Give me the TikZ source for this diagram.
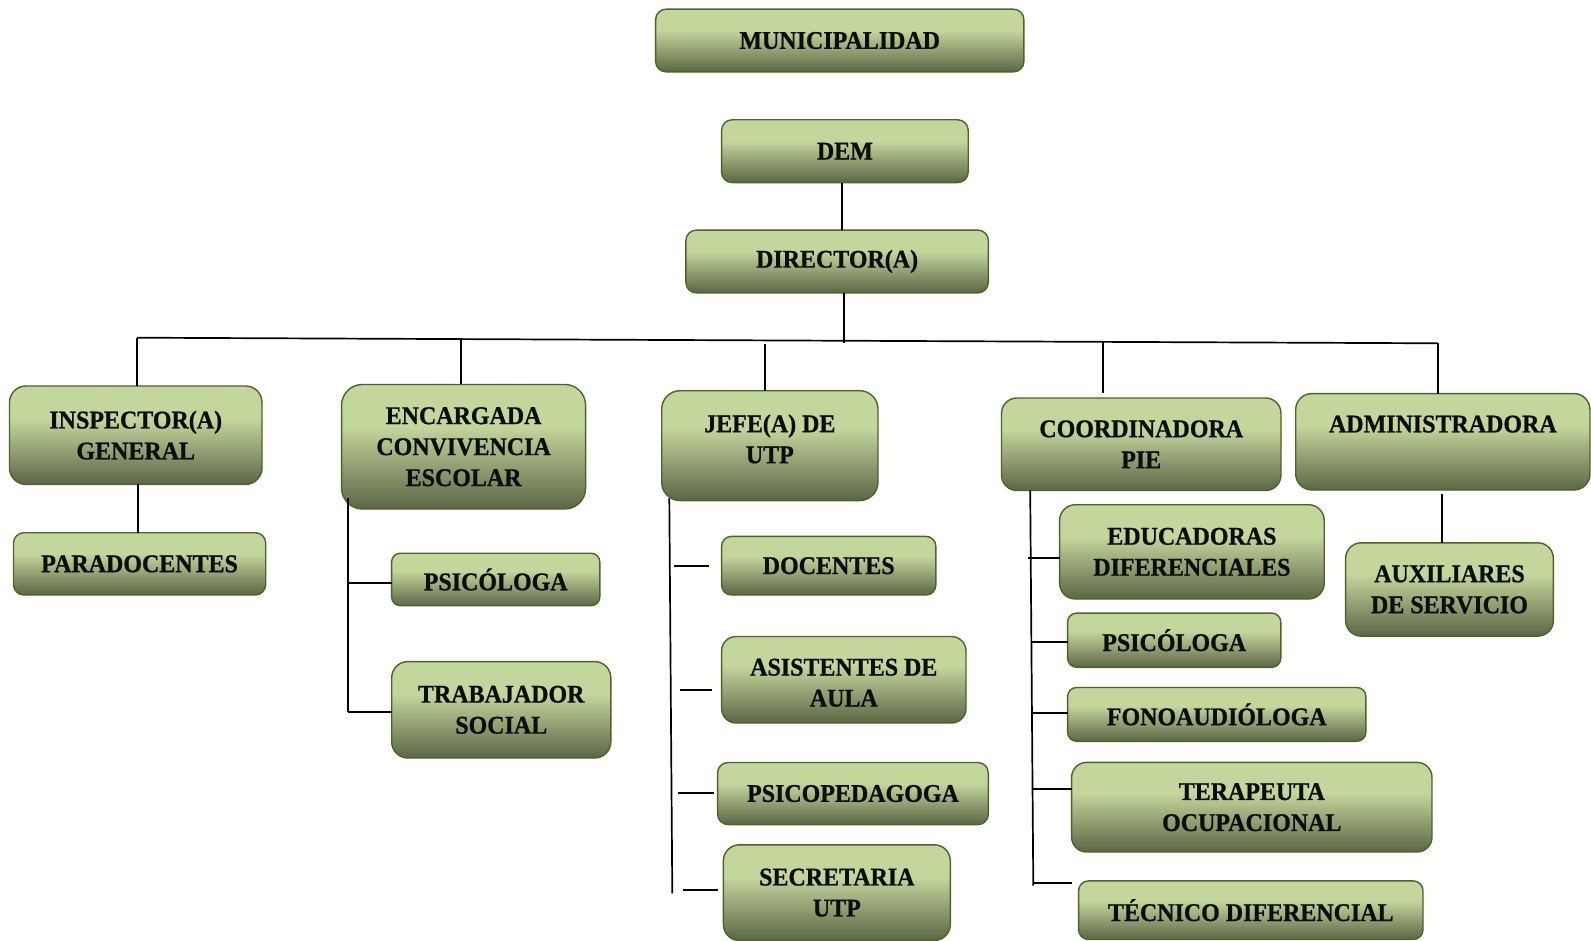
\documentclass[tikz,border=0pt]{standalone}
\usepackage{fontspec}
\setmainfont{Liberation Serif}[FakeStretch=0.94, BoldFeatures={FakeBold=0.8}]
\usetikzlibrary{calc}

\definecolor{boxtop}{HTML}{C3D69B}
\definecolor{boxmid}{HTML}{919F72}
\definecolor{boxbot}{HTML}{5A6746}
\definecolor{boxedge}{HTML}{4F6228}
\definecolor{inktext}{HTML}{0D0D0D}

% light olive at the top, darkening towards the bottom edge
\pgfdeclareverticalshading{olivefade}{100bp}{color(0bp)=(boxbot); color(25bp)=(boxbot); color(42bp)=(boxmid); color(58bp)=(boxtop); color(100bp)=(boxtop)}

\tikzset{
  unitbox/.style={draw=boxedge, line width=1.4pt, shading=olivefade, inner sep=0pt, outer sep=0pt},
  unittext/.style={font=\bfseries\fontsize{25.5}{31}\selectfont, text=inktext, align=center, inner sep=0pt},
  conn/.style={draw=black, line width=1.7pt}
}

% \OrgBox[text shift]{name}{x1}{y1}{x2}{y2}{label}
\newcommand\OrgBox[7][0pt]{%
  \pgfmathsetmacro\obW{#5-#3}%
  \pgfmathsetmacro\obH{#6-#4}%
  \pgfmathsetmacro\obR{0.167*min(\obW,\obH)}%
  \node[unitbox, minimum width=\obW pt, minimum height=\obH pt, rounded corners=\obR pt] (#2) at ({(#3+#5)/2},{(#4+#6)/2}) {};
  \node[unittext, yshift=#1] (#2-t) at (#2.center) {#7};
}

\begin{document}
\begin{tikzpicture}[x=1pt,y=-1pt]
\useasboundingbox (0,0) rectangle (1591,941);

% ---- units ----
\OrgBox{muni}{655.6}{9.2}{1023.9}{71.9}{MUNICIPALIDAD}
\OrgBox{dem}{721.6}{119.8}{968.2}{182.6}{DEM}
\OrgBox{dir}{685.9}{230.1}{988.3}{292.9}{DIRECTOR(A)}

\OrgBox{insp}{9.5}{386}{262}{484.4}{INSPECTOR(A)\\GENERAL}
\OrgBox{para}{13.5}{532.7}{265.7}{595}{PARADOCENTES}

\OrgBox{enc}{341.6}{384.5}{585.6}{509}{ENCARGADA\\CONVIVENCIA\\ESCOLAR}
\OrgBox{psi1}{391.6}{553.2}{599.8}{605.7}{PSICÓLOGA}
\OrgBox{trab}{391.7}{661.6}{610.8}{758}{TRABAJADOR\\SOCIAL}

\OrgBox[6.7pt]{jefe}{661.7}{390.7}{878}{500.6}{JEFE(A) DE\\UTP}
\OrgBox{doc}{721.6}{536.4}{935.8}{595}{DOCENTES}
\OrgBox[-3pt]{asis}{721.6}{636.5}{966}{723}{ASISTENTES DE\\AULA}
\OrgBox{psped}{717.6}{762.5}{988.3}{824.6}{PSICOPEDAGOGA}
\OrgBox{secr}{723.4}{844.8}{950.3}{940.5}{SECRETARIA\\UTP}

\OrgBox{coord}{1001.5}{398}{1281}{490.5}{COORDINADORA\\PIE}
\OrgBox{edu}{1059.6}{504.7}{1324.2}{599}{EDUCADORAS\\DIFERENCIALES}
\OrgBox{psi2}{1067.6}{613.1}{1280.8}{667.3}{PSICÓLOGA}
\OrgBox{fono}{1067.6}{687.5}{1365.9}{741.3}{FONOAUDIÓLOGA}
\OrgBox{tera}{1071.6}{762.4}{1432}{852}{TERAPEUTA\\OCUPACIONAL}
\OrgBox{tec}{1078.6}{880.9}{1423}{939.5}{TÉCNICO DIFERENCIAL}

\OrgBox[17.7pt]{admin}{1295.7}{393.6}{1590}{490}{ADMINISTRADORA}
\OrgBox{aux}{1345.6}{542.8}{1553.4}{636.1}{AUXILIARES\\DE SERVICIO}

% ---- top of the chart ----
\coordinate (x-demdir) at (841.7,0);
\draw[conn] (dem.south -| x-demdir) -- (dir.north -| x-demdir);
\coordinate (dir-foot) at (844,343.3);
\draw[conn] (dir.south -| dir-foot) -- (dir-foot);

% ---- main bus and drops ----
\coordinate (bus-l) at (137.2,337.7);
\coordinate (bus-r) at (1437.7,343.3);
\draw[conn] (bus-l) -- (bus-r);
\draw[conn] (bus-l) -- (bus-l |- insp.north);
\coordinate (enc-top) at (460.7,339.1);
\draw[conn] (enc-top) -- (enc-top |- enc.north);
\coordinate (jefe-top) at (765,344);
\draw[conn] (jefe-top) -- (jefe-top |- jefe.north);
\coordinate (coord-top) at (1103,341.9);
\coordinate (coord-end) at (1103,393.3);
\draw[conn] (coord-top) -- (coord-end);
\draw[conn] (bus-r) -- (bus-r |- admin.north);

% ---- single links ----
\coordinate (x-ip) at (138,0);
\draw[conn] (insp.south -| x-ip) -- (para.north -| x-ip);
\coordinate (aux-stem) at (1441.9,494);
\draw[conn] (aux-stem) -- (aux-stem |- aux.north);

% ---- convivencia escolar branch ----
\coordinate (enc-spine-t) at (348,498.3);
\coordinate (enc-spine-b) at (348,712.3);
\coordinate (enc-j1) at (348,583.3);
\draw[conn] (enc-spine-t) -- (enc-spine-b);
\draw[conn] (enc-j1) -- (enc-j1 -| psi1.west);
\draw[conn] (enc-spine-b) -- (enc-spine-b -| trab.west);

% ---- UTP branch ----
\coordinate (utp-spine-t) at (669.3,498.3);
\coordinate (utp-spine-b) at (672.3,893.3);
\draw[conn] (utp-spine-t) -- (utp-spine-b);
\coordinate (utp-s1a) at (674,566);     \coordinate (utp-s1b) at (709.3,566);
\coordinate (utp-s2a) at (680,690);     \coordinate (utp-s2b) at (711.7,690);
\coordinate (utp-s3a) at (678.3,793.3); \coordinate (utp-s3b) at (714,793.3);
\coordinate (utp-s4a) at (683.3,890);   \coordinate (utp-s4b) at (718.3,890);
\draw[conn] (utp-s1a) -- (utp-s1b);
\draw[conn] (utp-s2a) -- (utp-s2b);
\draw[conn] (utp-s3a) -- (utp-s3b);
\draw[conn] (utp-s4a) -- (utp-s4b);

% ---- PIE branch ----
\coordinate (pie-spine-t) at (1030.2,490.5);
\coordinate (pie-spine-b) at (1033.3,885.7);
\draw[conn] (pie-spine-t) -- (pie-spine-b);
\coordinate (pie-j1) at (1028.3,558.3);
\coordinate (pie-j2) at (1032.3,641.7);
\coordinate (pie-j3) at (1032.5,713.3);
\coordinate (pie-j4) at (1032.8,789);
\coordinate (pie-j5) at (1033.3,883.3);
\coordinate (pie-j5e) at (1071.7,883.3);
\draw[conn] (pie-j1) -- (pie-j1 -| edu.west);
\draw[conn] (pie-j2) -- (pie-j2 -| psi2.west);
\draw[conn] (pie-j3) -- (pie-j3 -| fono.west);
\draw[conn] (pie-j4) -- (pie-j4 -| tera.west);
\draw[conn] (pie-j5) -- (pie-j5e);
\end{tikzpicture}
\end{document}
